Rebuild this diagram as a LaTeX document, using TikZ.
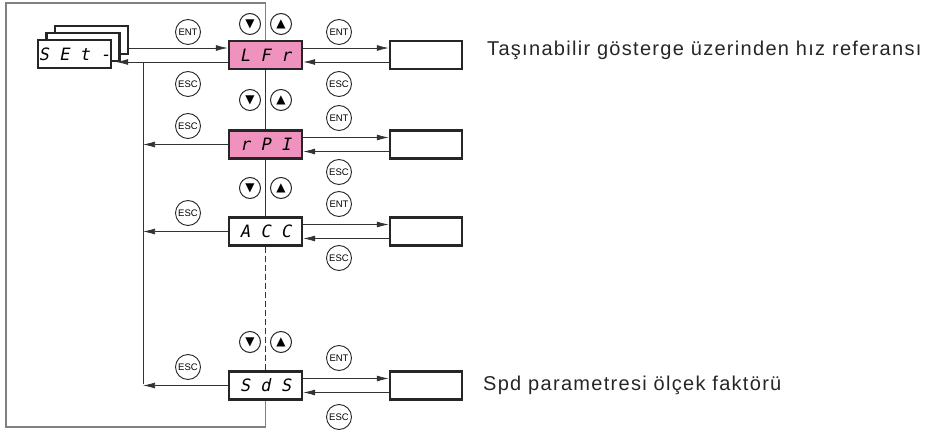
\documentclass[tikz,border=0pt]{standalone}
\usepackage{fontspec}
\setmainfont{Liberation Sans}
\newfontfamily\lcdfont[FakeSlant=0.2]{DejaVu Sans Mono}
\newfontfamily\symfont{DejaVu Sans}
\usepackage{tikz}
\usetikzlibrary{arrows,arrows.meta,calc}
\definecolor{lcdpink}{RGB}{240,146,190}

\begin{document}
\begin{tikzpicture}[x=1pt,y=-1pt,
  disp/.style={draw=black!85,fill=white,line width=2.4pt,minimum width=73pt,minimum height=28pt,inner sep=0pt,
    font=\lcdfont\fontsize{17}{17}\selectfont},
  valbox/.style={draw=black!85,line width=2.4pt,minimum width=72pt,minimum height=28pt},
  keybtn/.style={circle,draw=black!85,line width=0.9pt,minimum size=25pt,inner sep=0pt,
    font=\fontsize{9.5}{9.5}\selectfont},
  navbtn/.style={circle,draw=black!85,line width=1pt,minimum size=21pt,inner sep=0pt,
    font=\symfont\fontsize{12}{12}\selectfont},
  flow/.style={-{Latex[length=12pt,width=6pt]},line width=0.75pt,draw=black!80},
  link/.style={line width=0.75pt,draw=black!80},
  note/.style={anchor=west,inner sep=0pt,text=black!85,
    font=\fontsize{20}{20}\selectfont\addfontfeatures{LetterSpace=6.5}}]
\useasboundingbox (0,0) rectangle (925,430);

% SEt- stack
\node[disp] (set3) at (91.5,40) {};
\node[disp] (set2) at (83,47) {};
\node[disp] (set1) at (74.5,54) {S E t -};

% menu displays
\node[disp,fill=lcdpink] (lfr) at (265.5,55) {L F r};
\node[disp,fill=lcdpink] (rpi) at (265.5,144.5) {r P I};
\node[disp] (acc) at (265.5,231.5) {A C C};
\node[disp] (sds) at (265.5,385.5) {S d S};

% value boxes
\foreach \n/\y in {lfr/55,rpi/144.5,acc/231.5,sds/385.5}
  \node[valbox] (v\n) at (426,\y) {};

% frame and vertical links
\draw[gray,line width=1.2pt] (lfr.north) -- (lfr.north |- 0,3) -- (6,3) -- (6,427)
  -- (sds.south |- 0,427) -- (sds.south);
\draw[link] (lfr.south) -- (rpi.north);
\draw[link] (rpi.south) -- (acc.north);
\draw[link,dash pattern=on 6pt off 3pt] (acc.south) -- (sds.north);

% SEt- <-> LFr
\coordinate (setin) at ([xshift=4pt,yshift=-8pt]set1.east);
\coordinate (bustop) at (143,62);
\coordinate (busbot) at (143,383.5);
\draw[flow] ([yshift=-8pt]set3.east) -- ([yshift=7pt]lfr.west);
\draw[flow] ([yshift=-7pt]lfr.west) -- (setin);
\draw[link] (bustop) -- (busbot);
\foreach \n in {rpi,acc,sds}
  \draw[flow] (\n.west) -- (\n.west -| bustop);

% ENT / ESC to value boxes
\foreach \n in {lfr,rpi,acc,sds} {
  \draw[flow] ([yshift=7pt]\n.east) -- ([yshift=7pt]v\n.west);
  \draw[flow] ([yshift=-7pt]v\n.west) -- ([yshift=-7pt]\n.east);
}

% keys
\node[keybtn] (ent0) at (188,32) {ENT};
\node[keybtn] (esc0) at (188,84) {ESC};
\node[keybtn] (ent1) at (339,32) {ENT};
\node[keybtn] (esc1) at (339,84) {ESC};
\node[keybtn] (esc2) at (188,126) {ESC};
\node[keybtn] (ent2) at (339,118) {ENT};
\node[keybtn] (esc3) at (339,172) {ESC};
\node[keybtn] (ent3) at (339,204) {ENT};
\node[keybtn] (esc4) at (188,213) {ESC};
\node[keybtn] (esc5) at (339,258) {ESC};
\node[keybtn] (ent4) at (339,358) {ENT};
\node[keybtn] (esc6) at (188,367) {ESC};
\node[keybtn] (esc7) at (339,417) {ESC};

% arrow keys
\foreach \i/\y in {1/24,2/100,3/188,4/342} {
  \node[navbtn] (dn\i) at (250,\y) {▼};
  \node[navbtn] (up\i) at (281,\y) {▲};
}

% descriptions
\node[note] (txt1) at (487,50) {Taşınabilir gösterge üzerinden hız referansı};
\node[note] (txt2) at (483,385) {Spd parametresi ölçek faktörü};
\end{tikzpicture}
\end{document}
